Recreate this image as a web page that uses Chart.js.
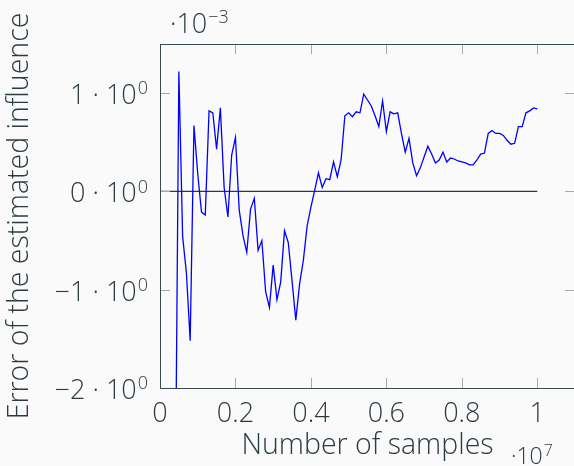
<!DOCTYPE html>
<html>
<head>
<meta charset="utf-8">
<script src="https://cdn.jsdelivr.net/npm/chart.js@4.4.1/dist/chart.umd.min.js"></script>
<style>
  html, body { margin: 0; padding: 0; background: #fafafa; overflow: hidden; }
  #wrap { width: 576px; height: 466px; }
</style>
</head>
<body>
<div id="wrap"><canvas id="myChart" width="576" height="466"></canvas></div>
<script>
// number of samples, in units of 10^7
var samples = [0.04, 0.05, 0.06, 0.07, 0.08, 0.09, 0.10, 0.11, 0.12, 0.13,
  0.14, 0.15, 0.16, 0.17, 0.18, 0.19, 0.20, 0.21, 0.22, 0.23,
  0.24, 0.25, 0.26, 0.27, 0.28, 0.29, 0.30, 0.31, 0.32, 0.33,
  0.34, 0.35, 0.36, 0.37, 0.38, 0.39, 0.40, 0.41, 0.42, 0.43,
  0.44, 0.45, 0.46, 0.47, 0.48, 0.49, 0.50, 0.51, 0.52, 0.53,
  0.54, 0.55, 0.56, 0.57, 0.58, 0.59, 0.60, 0.61, 0.62, 0.63,
  0.64, 0.65, 0.66, 0.67, 0.68, 0.69, 0.70, 0.71, 0.72, 0.73,
  0.74, 0.75, 0.76, 0.77, 0.78, 0.79, 0.80, 0.81, 0.82, 0.83,
  0.84, 0.85, 0.86, 0.87, 0.88, 0.89, 0.90, 0.91, 0.92, 0.93,
  0.94, 0.95, 0.96, 0.97, 0.98, 0.99, 1.00];

// error of the estimated influence, in units of 10^-3
var errors = [-3.5, 1.22, -0.46, -0.83, -1.52, 0.67, 0.18, -0.21, -0.24, 0.82,
  0.80, 0.43, 0.85, 0.04, -0.26, 0.37, 0.55, -0.19, -0.45, -0.62,
  -0.18, -0.07, -0.60, -0.50, -1.02, -1.18, -0.75, -1.10, -0.92, -0.40,
  -0.52, -0.91, -1.31, -0.94, -0.70, -0.35, -0.16, 0.01, 0.19, 0.04,
  0.13, 0.12, 0.30, 0.15, 0.32, 0.77, 0.80, 0.76, 0.81, 0.80,
  0.99, 0.93, 0.87, 0.77, 0.66, 0.92, 0.61, 0.81, 0.79, 0.80,
  0.59, 0.40, 0.54, 0.29, 0.16, 0.24, 0.35, 0.46, 0.38, 0.29,
  0.32, 0.40, 0.30, 0.34, 0.33, 0.31, 0.30, 0.29, 0.27, 0.27,
  0.32, 0.38, 0.39, 0.59, 0.62, 0.59, 0.59, 0.57, 0.52, 0.48,
  0.49, 0.66, 0.66, 0.80, 0.82, 0.85, 0.84];

// reference line at zero
var zeroX = [0, 1];
var zeroY = [0, 0];

var xTicks = [0, 0.2, 0.4, 0.6, 0.8, 1];
var yTicks = [-2, -1, 0, 1];

var textColor = '#2c3b42';
var fontFamily = "'Open Sans', 'Noto Sans', sans-serif";

function toPoints(xs, ys) {
  return xs.map(function (x, i) { return { x: x, y: ys[i] }; });
}

// draws "base" followed by a raised exponent, aligned left or right at x
function drawPower(ctx, base, exp, x, baseline, size, align) {
  var supSize = Math.round(size * 0.68);
  ctx.font = '300 ' + size + 'px ' + fontFamily;
  var wBase = ctx.measureText(base).width;
  ctx.font = '300 ' + supSize + 'px ' + fontFamily;
  var wExp = ctx.measureText(exp).width;
  var left = align === 'right' ? x - wBase - wExp - 1 : x;
  ctx.fillStyle = textColor;
  ctx.textBaseline = 'alphabetic';
  ctx.textAlign = 'left';
  ctx.font = '300 ' + size + 'px ' + fontFamily;
  ctx.fillText(base, left, baseline);
  ctx.font = '300 ' + supSize + 'px ' + fontFamily;
  ctx.fillText(exp, left + wBase + 1, baseline - size * 0.36);
}

var axisDecor = {
  id: 'axisDecor',
  afterDraw: function (chart) {
    var ctx = chart.ctx;
    var a = chart.chartArea;
    var xs = chart.scales.x, ys = chart.scales.y;
    ctx.save();

    // inward tick marks
    ctx.strokeStyle = '#a9a9a9';
    ctx.lineWidth = 1;
    ctx.beginPath();
    xTicks.forEach(function (v) {
      var px = Math.round(xs.getPixelForValue(v)) + 0.5;
      if (px <= a.left + 1) return;
      ctx.moveTo(px, a.bottom); ctx.lineTo(px, a.bottom - 10);
      ctx.moveTo(px, a.top); ctx.lineTo(px, a.top + 10);
    });
    yTicks.forEach(function (v) {
      var py = Math.round(ys.getPixelForValue(v)) + 0.5;
      if (py >= a.bottom - 1) return;
      ctx.moveTo(a.left, py); ctx.lineTo(a.left + 10, py);
      ctx.moveTo(a.right, py); ctx.lineTo(a.right - 10, py);
    });
    ctx.stroke();

    // axis frame
    ctx.strokeStyle = '#3a484f';
    ctx.beginPath();
    ctx.moveTo(a.left + 0.5, a.top + 0.5);
    ctx.lineTo(a.right + 0.5, a.top + 0.5);
    ctx.moveTo(a.left + 0.5, a.top);
    ctx.lineTo(a.left + 0.5, a.bottom + 0.5);
    ctx.lineTo(a.right + 0.5, a.bottom + 0.5);
    ctx.lineTo(a.right + 0.5, a.top);
    ctx.stroke();

    // y tick labels with exponents
    yTicks.forEach(function (v) {
      var py = ys.getPixelForValue(v);
      var m = (v < 0 ? '\u2212' : '') + Math.abs(v);
      drawPower(ctx, m + ' \u00b7 10', '0', a.left - 12, py + 11, 27, 'right');
    });

    // scale factors
    drawPower(ctx, '\u00b710', '\u22123', a.left + 10, 33, 27, 'left');
    drawPower(ctx, '\u00b710', '7', 511, 464, 23, 'left');

    ctx.restore();
  }
};

var data = {
  datasets: [{
    data: toPoints(samples, errors),
    borderColor: '#0000ff',
    borderWidth: 1.3,
    pointRadius: 0,
    tension: 0
  }, {
    data: toPoints(zeroX, zeroY),
    borderColor: '#2c3b42',
    borderWidth: 1.2,
    pointRadius: 0
  }]
};

var titleFont = { family: fontFamily, size: 28.5, weight: '300' };

var config = {
  type: 'line',
  data: data,
  plugins: [axisDecor],
  options: {
    responsive: false,
    animation: false,
    layout: { padding: { top: 44, right: 1, left: 0, bottom: 0 } },
    plugins: { legend: { display: false }, tooltip: { enabled: false } },
    scales: {
      x: {
        type: 'linear',
        min: 0,
        max: 1.1,
        afterBuildTicks: function (s) { s.ticks = xTicks.map(function (v) { return { value: v }; }); },
        afterFit: function (s) { s.height = 78; },
        grid: { display: false, drawTicks: false },
        border: { display: false },
        ticks: {
          padding: 10,
          color: textColor,
          font: { family: fontFamily, size: 27, weight: '300' },
          callback: function (v) { return String(v); }
        },
        title: {
          display: true,
          text: 'Number of samples',
          color: textColor,
          font: titleFont,
          padding: { top: 0, bottom: 3 }
        }
      },
      y: {
        type: 'linear',
        min: -2,
        max: 1.5,
        afterBuildTicks: function (s) { s.ticks = yTicks.map(function (v) { return { value: v }; }); },
        afterFit: function (s) { s.width = 160; },
        grid: { display: false, drawTicks: false },
        border: { display: false },
        ticks: { display: false },
        title: {
          display: true,
          text: 'Error of the estimated influence',
          color: textColor,
          font: titleFont,
          padding: { top: 3, bottom: 0 }
        }
      }
    }
  }
};

var myChart = new Chart(document.getElementById('myChart').getContext('2d'), config);
</script>
</body>
</html>
